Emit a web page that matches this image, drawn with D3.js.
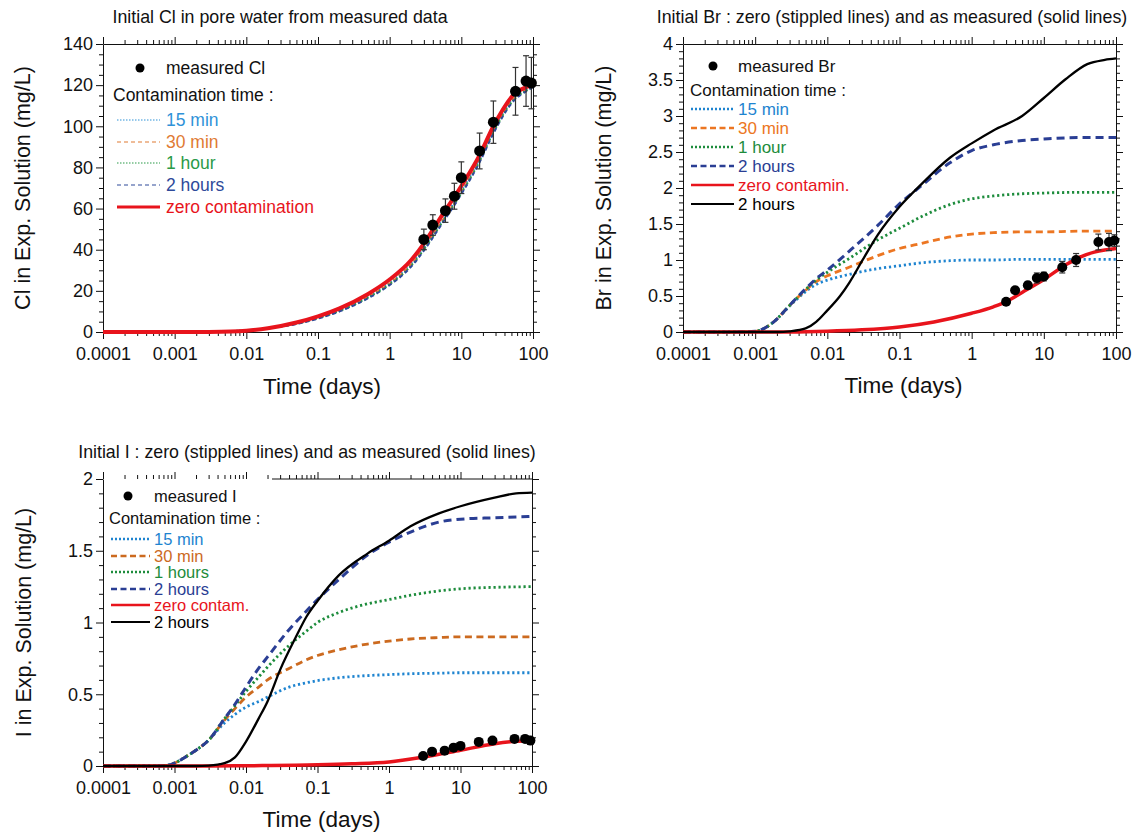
<!DOCTYPE html>
<html><head><meta charset="utf-8">
<script src="https://cdn.jsdelivr.net/npm/d3@7"></script>
<style>
body{margin:0;background:#fff}
svg text{font-family:"Liberation Sans",Arial,Helvetica,sans-serif}
</style>
</head><body>
<svg id="c" width="1132" height="834"></svg>
<script>
// ---------------- DATA ----------------
const xTicks = [0.0001, 0.001, 0.01, 0.1, 1, 10, 100];
const xTickLabels = ["0.0001", "0.001", "0.01", "0.1", "1", "10", "100"];
const clYTicks = [0, 20, 40, 60, 80, 100, 120, 140];
const clYLabels = ["0", "20", "40", "60", "80", "100", "120", "140"];
const brYTicks = [0, 0.5, 1, 1.5, 2, 2.5, 3, 3.5, 4];
const brYLabels = ["0", "0.5", "1", "1.5", "2", "2.5", "3", "3.5", "4"];
const iYTicks = [0, 0.5, 1, 1.5, 2];
const iYLabels = ["0", "0.5", "1", "1.5", "2"];

const measDays = [3, 4, 6, 8, 10, 18, 28, 57, 80, 95];
const clMeas = [45, 52, 59, 66, 75, 88, 102, 117, 122, 121];
const clErr  = [5, 5, 5.7, 6.3, 7.7, 8.7, 10.3, 11.6, 12.3, 12.5];
const brMeas = [0.42, 0.58, 0.65, 0.75, 0.77, 0.9, 1.0, 1.25, 1.25, 1.27];
const brErr  = [0, 0.02, 0.05, 0.07, 0.06, 0.08, 0.09, 0.11, 0.12, 0.08];
const iMeas  = [0.07, 0.10, 0.107, 0.128, 0.14, 0.168, 0.177, 0.189, 0.189, 0.177];

// Cl model curves
const clT    = [1e-4, 0.001, 0.003, 0.006, 0.01, 0.02, 0.05, 0.1, 0.2, 0.5, 1, 2, 3, 5, 10, 18, 28, 56, 80, 100];
const clZero = [0, 0, 0.05, 0.2, 0.6, 1.8, 4.6, 7.6, 11.5, 18.5, 25.5, 35, 43, 55, 71, 86, 100, 116, 119, 120];
const cl15   = [0, 0, 0.1, 0.4, 0.8, 1.8, 4.2, 7.0, 10.6, 17.3, 24, 33.3, 41, 52.5, 68.5, 84, 98, 114.5, 118, 119.5];
const cl30   = [0, 0, 0.1, 0.4, 0.8, 1.8, 4.1, 6.8, 10.4, 17, 23.6, 32.8, 40.5, 52, 68, 83.5, 97.5, 114, 117.5, 119.3];
const cl1h   = [0, 0, 0.1, 0.4, 0.8, 1.8, 4.0, 6.7, 10.2, 16.7, 23.2, 32.3, 40, 51.5, 67.5, 83, 97, 113.5, 117.3, 119.2];
const cl2h   = [0, 0, 0.1, 0.4, 0.8, 1.8, 3.9, 6.5, 10, 16.4, 22.8, 31.8, 39.5, 51, 67, 82.5, 96.5, 113, 117, 119];

// Br model curves
const brT  = [1e-4, 5e-4, 0.001, 0.0015, 0.002, 0.003, 0.005, 0.007, 0.01, 0.02, 0.05, 0.1, 0.2, 0.5, 1, 2, 5, 10, 30, 100];
const br15 = [0, 0, 0.01, 0.08, 0.18, 0.36, 0.56, 0.66, 0.72, 0.8, 0.88, 0.92, 0.96, 0.99, 1.0, 1.0, 1.01, 1.01, 1.01, 1.01];
const br30 = [0, 0, 0.01, 0.08, 0.18, 0.37, 0.58, 0.7, 0.78, 0.9, 1.06, 1.16, 1.23, 1.32, 1.36, 1.38, 1.39, 1.39, 1.4, 1.4];
const br1h = [0, 0, 0.01, 0.08, 0.18, 0.37, 0.59, 0.72, 0.83, 1.02, 1.28, 1.44, 1.6, 1.77, 1.85, 1.89, 1.92, 1.93, 1.94, 1.94];
const br2h = [0, 0, 0.01, 0.08, 0.18, 0.37, 0.6, 0.74, 0.86, 1.12, 1.48, 1.78, 2.03, 2.35, 2.52, 2.6, 2.66, 2.68, 2.7, 2.7];
const brBT = [1e-4, 0.002, 0.003, 0.005, 0.007, 0.01, 0.015, 0.02, 0.03, 0.05, 0.1, 0.2, 0.5, 1, 2, 5, 10, 20, 40, 70, 100];
const brBlack = [0, 0, 0.01, 0.05, 0.14, 0.3, 0.5, 0.68, 0.98, 1.35, 1.74, 2.05, 2.42, 2.62, 2.8, 3.0, 3.25, 3.51, 3.72, 3.78, 3.8];
const brRT = [1e-4, 0.003, 0.01, 0.03, 0.1, 0.3, 1, 2, 3, 5, 10, 20, 30, 50, 70, 100];
const brZero = [0, 0, 0.01, 0.03, 0.07, 0.14, 0.26, 0.35, 0.42, 0.55, 0.73, 0.93, 1.03, 1.11, 1.14, 1.16];

// I model curves
const iT  = [1e-4, 5e-4, 0.0008, 0.001, 0.0015, 0.002, 0.003, 0.005, 0.007, 0.01, 0.015, 0.02, 0.04, 0.07, 0.1, 0.2, 0.5, 1, 2, 5, 10, 30, 100];
const i15 = [0, 0, 0.005, 0.02, 0.07, 0.11, 0.18, 0.3, 0.36, 0.41, 0.45, 0.48, 0.55, 0.58, 0.595, 0.615, 0.63, 0.637, 0.643, 0.647, 0.65, 0.65, 0.65];
const i30 = [0, 0, 0.005, 0.02, 0.07, 0.11, 0.18, 0.32, 0.4, 0.48, 0.55, 0.6, 0.68, 0.74, 0.77, 0.81, 0.85, 0.87, 0.885, 0.895, 0.9, 0.9, 0.9];
const i1h = [0, 0, 0.005, 0.02, 0.07, 0.11, 0.18, 0.33, 0.42, 0.52, 0.62, 0.69, 0.84, 0.94, 1.0, 1.07, 1.13, 1.16, 1.19, 1.22, 1.235, 1.245, 1.25];
const i2h = [0, 0, 0.005, 0.02, 0.07, 0.11, 0.18, 0.33, 0.43, 0.55, 0.68, 0.76, 0.95, 1.08, 1.16, 1.3, 1.47, 1.56, 1.63, 1.7, 1.72, 1.73, 1.74];
const iBT = [1e-4, 0.002, 0.003, 0.005, 0.007, 0.01, 0.015, 0.02, 0.03, 0.05, 0.07, 0.1, 0.2, 0.5, 1, 2, 5, 10, 30, 60, 100];
const iBlack = [0, 0, 0.003, 0.02, 0.06, 0.17, 0.33, 0.45, 0.67, 0.9, 1.04, 1.15, 1.33, 1.48, 1.57, 1.67, 1.76, 1.81, 1.87, 1.9, 1.905];
const iRT = [1e-4, 0.003, 0.01, 0.1, 0.3, 1, 3, 10, 30, 60, 80, 100];
const iZero = [0, 0, 0.002, 0.008, 0.015, 0.028, 0.062, 0.11, 0.155, 0.172, 0.175, 0.165];

// ---------------- DRAWING ----------------
const svg = d3.select("#c");
const zip = (a, b) => a.map((v, i) => [v, b[i]]);

const C = {
  b15: "#1e84d0", o30: "#ec7622", g1: "#1d8c3c", n2: "#2a3e94", red: "#e8141c", blk: "#000"
};

function styleAxis(sel) {
  sel.attr("font-family", null).attr("font-size", null);
  sel.selectAll("path, line").attr("stroke", "#111").attr("stroke-width", 1);
  sel.selectAll("text").attr("font-size", 18).attr("fill", "#111");
}

function drawPanel(o) {
  const g = svg.append("g");
  const x = d3.scaleLog().domain([1e-4, 100]).range([o.left, o.right]);
  const y = d3.scaleLinear().domain([0, o.ymax]).range([o.bottom, o.top]);
  const minorX = [];
  for (let e = -4; e < 2; e++) for (let k = 2; k < 10; k++) minorX.push(k * Math.pow(10, e));
  const minorY = d3.range(0, o.ymax + 1e-9, o.yMinor)
    .filter(v => Math.abs(v / o.yMajor - Math.round(v / o.yMajor)) > 1e-6);

  // bottom
  g.append("g").attr("transform", `translate(0,${o.bottom})`)
    .call(d3.axisBottom(x).tickValues(xTicks).tickFormat((d, i) => xTickLabels[i]).tickSizeInner(7).tickSizeOuter(0).tickPadding(6))
    .call(s => styleAxis(s)).call(s => s.selectAll("text").attr("dy", "0.71em").attr("y", 15));
  g.append("g").attr("transform", `translate(0,${o.bottom})`)
    .call(d3.axisBottom(x).tickValues(minorX).tickFormat("").tickSizeInner(4).tickSizeOuter(0))
    .call(s => styleAxis(s)).call(s => s.select(".domain").remove());
  // top
  const top = g.append("g").attr("transform", `translate(0,${o.top})`)
    .call(d3.axisTop(x).tickValues(xTicks).tickFormat("").tickSizeInner(7).tickSizeOuter(0))
    .call(s => styleAxis(s));
  g.append("g").attr("transform", `translate(0,${o.top})`)
    .call(d3.axisTop(x).tickValues(minorX).tickFormat("").tickSizeInner(4).tickSizeOuter(0))
    .call(s => styleAxis(s)).call(s => s.select(".domain").remove());
  if (o.topGapEnd) {
    top.select(".domain").remove();
    g.append("line").attr("x1", o.topGapEnd).attr("x2", o.right).attr("y1", o.top).attr("y2", o.top)
      .attr("stroke", "#111").attr("stroke-width", 1);
  }
  // left
  g.append("g").attr("transform", `translate(${o.left},0)`)
    .call(d3.axisLeft(y).tickValues(o.yTicks).tickFormat((d, i) => o.yLabels[i]).tickSizeInner(7).tickSizeOuter(0).tickPadding(3))
    .call(s => styleAxis(s));
  g.append("g").attr("transform", `translate(${o.left},0)`)
    .call(d3.axisLeft(y).tickValues(minorY).tickFormat("").tickSizeInner(4).tickSizeOuter(0))
    .call(s => styleAxis(s)).call(s => s.select(".domain").remove());
  // right
  g.append("g").attr("transform", `translate(${o.right},0)`)
    .call(d3.axisRight(y).tickValues(o.yTicks).tickFormat("").tickSizeInner(7).tickSizeOuter(0))
    .call(s => styleAxis(s));
  g.append("g").attr("transform", `translate(${o.right},0)`)
    .call(d3.axisRight(y).tickValues(minorY).tickFormat("").tickSizeInner(4).tickSizeOuter(0))
    .call(s => styleAxis(s)).call(s => s.select(".domain").remove());

  // titles
  g.append("text").attr("x", o.titleX).attr("y", o.titleY).attr("text-anchor", "middle")
    .attr("font-size", 17.8).attr("fill", "#111").text(o.title);
  g.append("text").attr("x", (o.left + o.right) / 2 + 4).attr("y", o.xTitleY).attr("text-anchor", "middle")
    .attr("font-size", 22.5).attr("fill", "#111").text("Time (days)");
  g.append("text").attr("transform", `translate(${o.yTitleX},${(o.top + o.bottom) / 2}) rotate(-90)`)
    .attr("text-anchor", "middle").attr("font-size", 21.5).attr("fill", "#111").text(o.yTitle);

  const line = d3.line().x(d => x(d[0])).y(d => y(d[1])).curve(d3.curveMonotoneX);
  const plot = g.append("g");
  o.series.forEach(s => {
    plot.append("path").attr("d", line(zip(s.t, s.v))).attr("fill", "none")
      .attr("stroke", s.color).attr("stroke-width", s.w).attr("stroke-dasharray", s.dash || null)
      .attr("stroke-linejoin", "round");
  });
  // error bars
  if (o.err) {
    measDays.forEach((d, i) => {
      const e = o.err[i];
      if (!e) return;
      const cx = x(d), y1 = y(o.meas[i] - e), y2 = y(o.meas[i] + e);
      plot.append("line").attr("x1", cx).attr("x2", cx).attr("y1", y1).attr("y2", y2).attr("stroke", "#333").attr("stroke-width", 1.2);
      [y1, y2].forEach(yy => plot.append("line").attr("x1", cx - 3).attr("x2", cx + 3).attr("y1", yy).attr("y2", yy).attr("stroke", "#333").attr("stroke-width", 1.2));
    });
  }
  plot.selectAll("circle.m").data(measDays).enter().append("circle")
    .attr("cx", d => x(d)).attr("cy", (d, i) => y(o.meas[i])).attr("r", o.r).attr("fill", "#000");

  // legend
  const L = o.legend;
  const fs = L.fs || 17.5;
  g.append("circle").attr("cx", L.dotX).attr("cy", L.dotY).attr("r", 4.5).attr("fill", "#000");
  g.append("text").attr("x", L.textX).attr("y", L.dotY + 6).attr("font-size", fs).attr("fill", "#111").text(L.measLabel);
  g.append("text").attr("x", L.contX).attr("y", L.contY + 6).attr("font-size", fs).attr("fill", "#111").text("Contamination time :");
  L.items.forEach((it, i) => {
    const yy = L.rows[i];
    g.append("line").attr("x1", L.lineX1).attr("x2", L.lineX2).attr("y1", yy).attr("y2", yy)
      .attr("stroke", it.color).attr("stroke-width", it.w).attr("stroke-dasharray", it.dash || null);
    g.append("text").attr("x", L.textX).attr("y", yy + 6).attr("font-size", fs).attr("fill", it.color).text(it.label);
  });
}

// ---- Panel Cl ----
drawPanel({
  left: 103, right: 533, top: 44, bottom: 332, ymax: 140, yMajor: 20, yMinor: 5,
  yTicks: clYTicks, yLabels: clYLabels,
  title: "Initial Cl in pore water from measured data", titleX: 280, titleY: 23,
  xTitleY: 394, yTitleX: 30, yTitle: "Cl in Exp. Solution (mg/L)",
  meas: clMeas, err: clErr, r: 5.5,
  series: [
    { t: clT, v: cl15, color: "#2f92d8", w: 2, dash: "1.5 2" },
    { t: clT, v: cl30, color: "#e07a33", w: 2, dash: "4 3" },
    { t: clT, v: cl1h, color: "#2a9a48", w: 2, dash: "1.5 2" },
    { t: clT, v: cl2h, color: "#2e4a9a", w: 2, dash: "4 3" },
    { t: clT, v: clZero, color: C.red, w: 4 }
  ],
  legend: {
    dotX: 140, dotY: 68, textX: 166, contX: 113, contY: 95, lineX1: 117, lineX2: 160,
    measLabel: "measured Cl", rows: [120, 142, 163, 185, 207],
    items: [
      { label: "15 min", color: "#2f92d8", w: 1.2, dash: "1.5 1.5" },
      { label: "30 min", color: "#e07a33", w: 1.2, dash: "4 3" },
      { label: "1 hour", color: "#2a9a48", w: 1.2, dash: "1.5 1.5" },
      { label: "2 hours", color: "#2e4a9a", w: 1.2, dash: "4 3" },
      { label: "zero contamination", color: C.red, w: 3 }
    ]
  }
});

// ---- Panel Br ----
drawPanel({
  left: 683, right: 1116, top: 44, bottom: 332, ymax: 4, yMajor: 0.5, yMinor: 0.1,
  yTicks: brYTicks, yLabels: brYLabels,
  title: "Initial Br : zero (stippled lines) and as measured (solid lines)", titleX: 892, titleY: 23,
  xTitleY: 393, yTitleX: 611, yTitle: "Br in Exp. Solution (mg/L)",
  meas: brMeas, err: brErr, r: 5,
  series: [
    { t: brT, v: br15, color: C.b15, w: 2.8, dash: "2.2 2.8" },
    { t: brT, v: br30, color: C.o30, w: 2.8, dash: "7 4.5" },
    { t: brT, v: br1h, color: C.g1, w: 2.8, dash: "2.2 2.8" },
    { t: brT, v: br2h, color: C.n2, w: 3, dash: "8 5" },
    { t: brRT, v: brZero, color: C.red, w: 3.5 },
    { t: brBT, v: brBlack, color: C.blk, w: 2.3 }
  ],
  legend: {
    dotX: 713, dotY: 66, textX: 738, contX: 690, contY: 90, lineX1: 691, lineX2: 734,
    measLabel: "measured Br", rows: [109, 128, 147, 166, 185, 204], fs: 17,
    items: [
      { label: "15 min", color: C.b15, w: 2.5, dash: "2 2" },
      { label: "30 min", color: C.o30, w: 2.5, dash: "6 3.5" },
      { label: "1 hour", color: C.g1, w: 2.5, dash: "2 2" },
      { label: "2 hours", color: C.n2, w: 2.5, dash: "6 3.5" },
      { label: "zero contamin.", color: C.red, w: 2.5 },
      { label: "2 hours", color: C.blk, w: 2 }
    ]
  }
});

// ---- Panel I ----
drawPanel({
  left: 103, right: 532, top: 479, bottom: 766, ymax: 2, yMajor: 0.5, yMinor: 0.1,
  yTicks: iYTicks, yLabels: iYLabels, topGapEnd: 272,
  title: "Initial I : zero (stippled lines) and as measured (solid lines)", titleX: 307, titleY: 458,
  xTitleY: 827, yTitleX: 31, yTitle: "I in Exp. Solution (mg/L)",
  meas: iMeas, err: null, r: 5,
  series: [
    { t: iT, v: i15, color: C.b15, w: 2.8, dash: "2.2 2.8" },
    { t: iT, v: i30, color: "#cc6a1f", w: 2.8, dash: "7 4.5" },
    { t: iT, v: i1h, color: C.g1, w: 2.8, dash: "2.2 2.8" },
    { t: iT, v: i2h, color: C.n2, w: 3, dash: "8 5" },
    { t: iRT, v: iZero, color: C.red, w: 3.5 },
    { t: iBT, v: iBlack, color: C.blk, w: 2.3 }
  ],
  legend: {
    dotX: 128, dotY: 496, textX: 154, contX: 109, contY: 518, lineX1: 111, lineX2: 150,
    measLabel: "measured I", rows: [539, 556, 572, 589, 605, 622], fs: 16.5,
    items: [
      { label: "15 min", color: C.b15, w: 2.5, dash: "2 2" },
      { label: "30 min", color: "#cc6a1f", w: 2.5, dash: "6 3.5" },
      { label: "1 hours", color: C.g1, w: 2.5, dash: "2 2" },
      { label: "2 hours", color: C.n2, w: 2.5, dash: "6 3.5" },
      { label: "zero contam.", color: C.red, w: 2.5 },
      { label: "2 hours", color: C.blk, w: 2 }
    ]
  }
});
</script>
</body></html>
